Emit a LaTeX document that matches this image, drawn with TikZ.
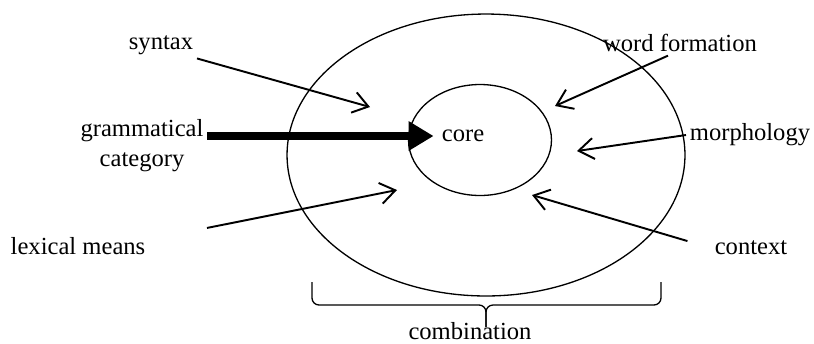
\documentclass[tikz,border=0pt]{standalone}
\usepackage{fontspec}
\setmainfont{Liberation Serif}
\usepackage{tikz}
\usetikzlibrary{shapes.geometric, arrows.meta, positioning}

\begin{document}
\begin{tikzpicture}[
  x=0.02cm, y=-0.02cm,
  lbl/.style={font=\fontsize{14}{17}\selectfont, align=center, inner sep=2pt},
  ring/.style={ellipse, draw, line width=0.75pt, inner sep=0pt},
  arr/.style={-{Straight Barb[length=0.3cm, width=0.42cm]}, line width=1.1pt},
  bigarr/.style={-{Triangle[length=0.5cm, width=0.56cm]}, line width=4pt}
]
  \useasboundingbox (0,0) rectangle (814,343);
  % the two rings
  \node[ring, minimum width=7.96cm, minimum height=5.64cm] (outer) at (486,155) {};
  \node[ring, minimum width=2.86cm, minimum height=2.22cm] (inner) at (480,140) {};
  \node[lbl, inner sep=4.5pt] (core) at (463,136) {core};
  % labels
  \node[lbl] (syntax) at (161,45) {syntax};
  \node[lbl] (gram) at (142,146) {grammatical\\category};
  \node[lbl] (lexical) at (78,246) {lexical means};
  \node[lbl] (wordf) at (680,43) {word formation};
  \node[lbl] (morph) at (750,135) {morphology};
  \node[lbl] (context) at (751,248) {context};
  \node[lbl] (comb) at (470,331) {combination};
  % free ends of the arrows
  \coordinate (syntip) at (370,107);
  \coordinate (lextip) at (397,190);
  \coordinate (wftip) at (555,106);
  \coordinate (morphtip) at (577,151);
  \coordinate (ctxtip) at (532,195);
  % arrows
  \draw[bigarr] (gram.east |- core.west) -- (core.west);
  \draw[arr] (syntax.south east) -- (syntip);
  \draw[arr, shorten <=1.18cm] ([yshift=0.13cm]lexical.east) -- (lextip);
  \draw[arr] ([xshift=-0.24cm]wordf.south) -- (wftip);
  \draw[arr] (morph.west) -- (morphtip);
  \draw[arr, shorten <=0.49cm] (context.west) -- (ctxtip);
  % brace
  \draw[line width=0.75pt, rounded corners=4pt] (312,282) -- (312,305) -- (486,305) -- (486,327);
  \draw[line width=0.75pt, rounded corners=4pt] (661,282) -- (661,305) -- (486,305) -- (486,327);
\end{tikzpicture}
\end{document}
